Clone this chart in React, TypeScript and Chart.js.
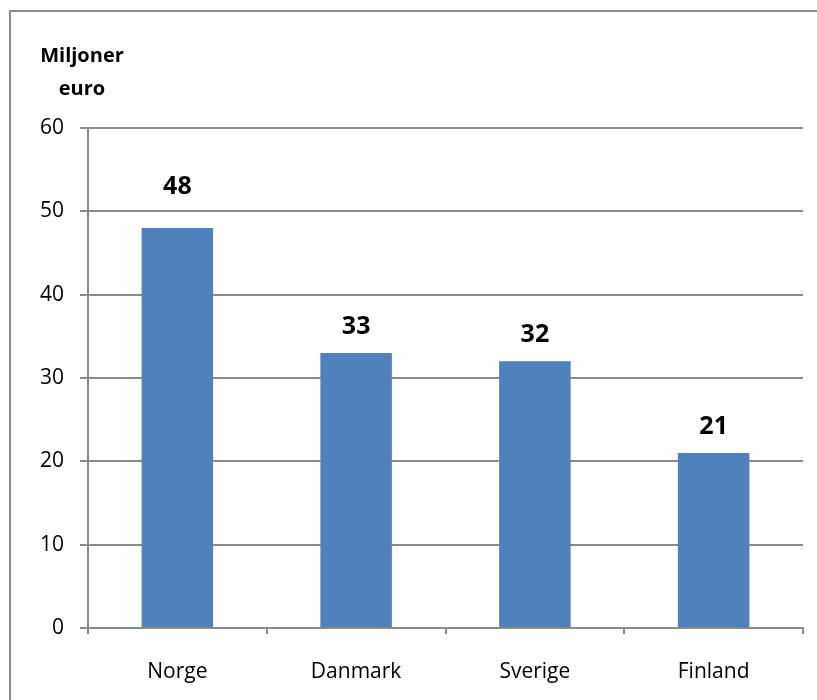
import React, { useEffect, useRef } from "react";
import { Chart, registerables } from "chart.js";

Chart.register(...registerables);

const categories = ["Norge", "Danmark", "Sverige", "Finland"];
const values = [48, 33, 32, 21];
const yTitleLines = ["Miljoner", "euro"];

const FONT = "'Open Sans', sans-serif";
const GRID = "#8a8a8a";
const BAR = "#4f81bd";

const decorPlugin = {
  id: "decor",
  beforeDraw(chart: any) {
    const ctx = chart.ctx;
    ctx.save();
    ctx.strokeStyle = "#8c8c8c";
    ctx.lineWidth = 2;
    ctx.strokeRect(10, 11, 900, 800);
    ctx.restore();
  },
  afterDatasetsDraw(chart: any) {
    const ctx = chart.ctx;
    const meta = chart.getDatasetMeta(0);
    const extra = [15, 0, 0, 0];
    ctx.save();
    ctx.fillStyle = "#000";
    ctx.font = `bold 25px ${FONT}`;
    ctx.textAlign = "center";
    ctx.textBaseline = "alphabetic";
    meta.data.forEach((bar: any, i: number) => {
      ctx.fillText(String(values[i]), bar.x, bar.y - 19 - extra[i]);
    });
    ctx.font = `bold 20px ${FONT}`;
    const cx = 82;
    ctx.fillText(yTitleLines[0], cx, 62);
    ctx.fillText(yTitleLines[1], cx, 95);
    ctx.restore();
  },
};

export default function App() {
  const ref = useRef<HTMLCanvasElement>(null);
  useEffect(() => {
    if (!ref.current) return;
    const chart = new Chart(ref.current, {
      type: "bar",
      data: {
        labels: categories,
        datasets: [
          {
            data: values,
            backgroundColor: BAR,
            borderWidth: 0,
            barPercentage: 0.4,
            categoryPercentage: 1,
          },
        ],
      },
      options: {
        animation: false,
        responsive: false,
        maintainAspectRatio: false,
        layout: { padding: { left: 0, top: 128, right: 14, bottom: 0 } },
        plugins: { legend: { display: false }, tooltip: { enabled: false }, title: { display: false } },
        scales: {
          y: {
            min: 0,
            max: 60,
            ticks: { stepSize: 10, color: "#000", font: { family: FONT, size: 21 }, padding: 16 },
            grid: { color: GRID, lineWidth: 2, tickLength: 8 },
            border: { color: GRID, width: 2 },
            afterFit(s: any) {
              s.width = 88;
            },
          },
          x: {
            ticks: { color: "#000", font: { family: FONT, size: 21 }, padding: 25 },
            grid: { drawOnChartArea: false, color: GRID, lineWidth: 2, tickLength: 6, offset: true },
            border: { color: GRID, width: 2 },
            afterFit(s: any) {
              s.height = 72;
            },
          },
        },
      },
      plugins: [decorPlugin],
    });
    return () => chart.destroy();
  }, []);
  return (
    <div style={{ position: "absolute", left: 0, top: 0, width: 817, height: 700, background: "#fff" }}>
      <canvas ref={ref} width={817} height={700} style={{ display: "block" }} />
    </div>
  );
}
